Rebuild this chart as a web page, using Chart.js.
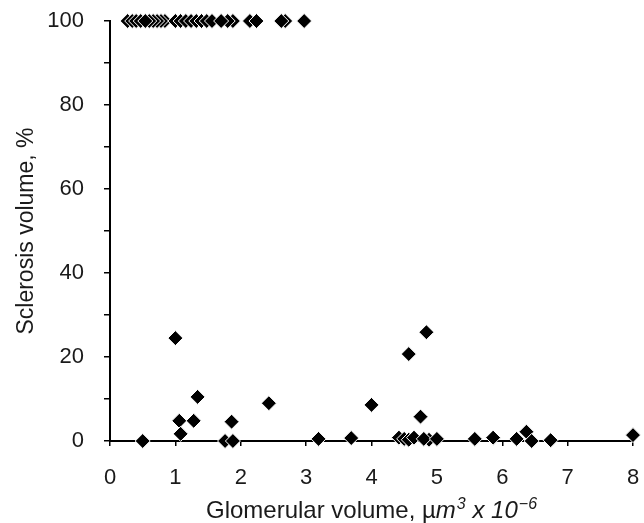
<!DOCTYPE html>
<html>
<head>
<meta charset="utf-8">
<script src="https://cdn.jsdelivr.net/npm/chart.js@4/dist/chart.umd.min.js"></script>
<style>
    html, body { margin: 0; padding: 0; background: #fff; }
    #wrap { width: 644px; height: 523px; }
</style>
</head>
<body>
<div id="wrap"><canvas id="scatterChart" width="644" height="523"></canvas></div>
<script>
// Glomeruly se 100% sklerózou (horní řada).
const totalX = [0.27, 0.34, 0.40, 0.47, 0.84, 0.78, 0.72, 0.66, 0.60, 0.54,
                1.00, 1.08, 1.16, 1.24, 1.32, 1.40, 1.48, 1.56, 1.88, 1.80, 1.70,
                2.14, 2.24, 2.68, 2.62, 2.97];
const totalY = totalX.map(() => 100);

// Glomeruly s částečnou sklerózou.
const partialX = [0.50, 1.00, 1.06, 1.08, 1.28, 1.34, 1.76, 1.88, 1.86, 2.43,
                  3.19, 3.69, 4.00, 4.42, 4.50, 4.57, 4.65, 4.88, 4.80, 5.00,
                  4.57, 4.84, 4.75, 5.58, 5.86, 6.22, 6.37, 6.45, 6.74, 8.00];
const partialY = [0.0, 24.5, 4.8, 1.7, 4.8, 10.5, 0.0, 0.0, 4.6, 9.0,
                  0.5, 0.7, 8.6, 0.8, 0.5, 0.3, 0.8, 0.3, 0.5, 0.5,
                  20.7, 25.9, 5.8, 0.5, 0.8, 0.5, 2.2, 0.0, 0.2, 1.4];

const xTicks = [0, 1, 2, 3, 4, 5, 6, 7, 8];
const yLabels = [0, 20, 40, 60, 80, 100];

// Popisek osy X po částech (kurzíva a horní index).
const xTitleParts = [
    { text: 'Glomerular volume, µ' },
    { text: 'm', italic: true },
    { text: '3', italic: true, sup: true },
    { text: ' x 10', italic: true },
    { text: '−6', italic: true, sup: true }
];

const textColor = '#1a1a1a';
const fontFamily = '"Liberation Sans", Arial, Helvetica, sans-serif';
const titleSize = 23;
const xTitleSize = 24;

function toPoints(xs, ys) {
    return xs.map((x, i) => ({ x: x, y: ys[i] }));
}

const allPoints = toPoints(totalX, totalY).concat(toPoints(partialX, partialY));

function partFont(part) {
    let size = part.sup ? Math.round(xTitleSize * 0.65) : xTitleSize;
    return (part.italic ? 'italic ' : '') + size + 'px ' + fontFamily;
}

// Vykreslí popisek osy X s kurzívou a horními indexy.
const xTitlePlugin = {
    id: 'xTitle',
    afterDraw(chart) {
        const c = chart.ctx;
        const area = chart.chartArea;
        c.save();
        c.fillStyle = textColor;
        c.textBaseline = 'alphabetic';
        let total = 0;
        xTitleParts.forEach(p => { c.font = partFont(p); total += c.measureText(p.text).width + (p.sup ? 1 : 0); });
        let x = (area.left + area.right) / 2 - total / 2;
        const baseY = 518;
        xTitleParts.forEach(p => {
            c.font = partFont(p);
            c.fillText(p.text, x + (p.sup ? 1 : 0), p.sup ? baseY - 9 : baseY);
            x += c.measureText(p.text).width + (p.sup ? 1 : 0);
        });
        c.restore();
    }
};

let ctx = document.getElementById('scatterChart').getContext('2d');
let chart = new Chart(ctx, {
    type: 'scatter',
    data: {
        datasets: [{
            data: allPoints,
            pointStyle: 'rectRot',
            pointRadius: 7.5,
            pointBackgroundColor: '#000',
            pointBorderColor: '#fff',
            pointBorderWidth: 1,
            clip: false
        }]
    },
    plugins: [xTitlePlugin],
    options: {
        responsive: false,
        animation: false,
        events: [],
        layout: { autoPadding: false, padding: { top: 21, right: 11, left: 0, bottom: 0 } },
        plugins: {
            legend: { display: false },
            tooltip: { enabled: false }
        },
        scales: {
            x: {
                type: 'linear',
                min: 0,
                max: 8,
                afterFit: function(scale) {
                    scale.height = 82;
                    scale.paddingLeft = 0;
                    scale.paddingRight = 0;
                },
                afterBuildTicks: function(scale) {
                    scale.ticks = xTicks.map(v => ({ value: v }));
                },
                border: { display: true, color: '#000', width: 2 },
                grid: { drawOnChartArea: false, color: '#000', lineWidth: 1.5, tickLength: 5 },
                ticks: { color: textColor, font: { family: fontFamily, size: 22 }, padding: 19, maxRotation: 0 }
            },
            y: {
                type: 'linear',
                min: 0,
                max: 100,
                afterFit: function(scale) {
                    scale.width = 110;
                    scale.paddingTop = 0;
                    scale.paddingBottom = 0;
                },
                ticks: {
                    stepSize: 10,
                    color: textColor,
                    font: { family: fontFamily, size: 22 },
                    padding: 20,
                    callback: function(value) {
                        return yLabels.includes(value) ? value : '';
                    }
                },
                border: { display: true, color: '#000', width: 2 },
                grid: { drawOnChartArea: false, color: '#000', lineWidth: 1.5, tickLength: 6 },
                title: {
                    display: true,
                    text: 'Sclerosis volume, %',
                    color: textColor,
                    font: { family: fontFamily, size: titleSize },
                    padding: { top: 13, bottom: 0 }
                }
            }
        }
    }
});
</script>
</body>
</html>
